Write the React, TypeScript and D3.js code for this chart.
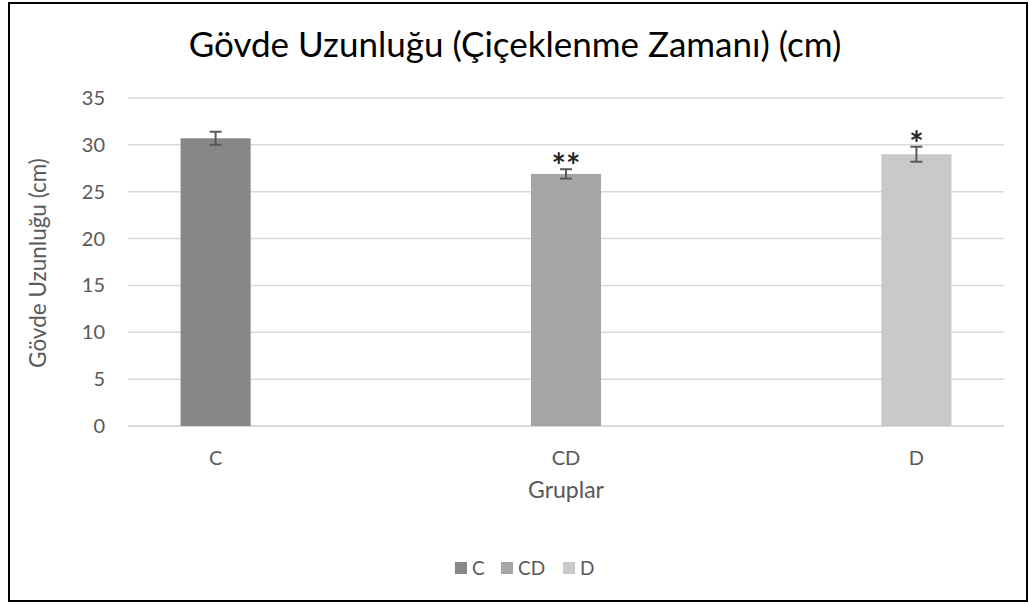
import React from 'react';
import * as d3 from 'd3';

const groups = ['C', 'CD', 'D'];
const means = [30.7, 26.9, 29.0];
const errors = [0.7, 0.5, 0.8];
const marks = ['', '**', '*'];
const barColors = ['#878787', '#a5a5a5', '#c9c9c9'];
const yTicks = [0, 5, 10, 15, 20, 25, 30, 35];

const W = 1029;
const H = 605;
const plot = { left: 128, right: 1004, top: 98, bottom: 426 };
const font = 'Lato, "Open Sans", sans-serif';

const App = () => {
  const x = d3.scalePoint<string>()
    .domain(groups)
    .range([plot.left, plot.right])
    .padding(0.25);

  const y = d3.scaleLinear()
    .domain([0, 35])
    .range([plot.bottom, plot.top]);

  const barW = x.step() * 0.2;
  const capW = 12;

  return (
    <svg width={W} height={H} style={{ position: 'absolute', left: 0, top: 0 }}>
      <rect x={0} y={0} width={W} height={H} fill="#fff" />
      <rect x={9} y={3} width={1018} height={598} fill="none" stroke="#000" strokeWidth={2} />

      <text x={515} y={57} textAnchor="middle" fontFamily={font} fontSize={35} fill="#000">
        Gövde Uzunluğu (Çiçeklenme Zamanı) (cm)
      </text>

      {/* gridlines */}
      {yTicks.map(t => (
        <line key={t} x1={plot.left} x2={plot.right} y1={y(t)} y2={y(t)}
          stroke="#d9d9d9" strokeWidth={t === 0 ? 2 : 1.5} />
      ))}

      {/* y tick labels */}
      {yTicks.map(t => (
        <text key={t} x={105} y={y(t)} dy="0.35em" textAnchor="end"
          fontFamily={font} fontSize={20} fill="#595959">{t}</text>
      ))}

      <text transform={`translate(46,${(plot.top + plot.bottom) / 2 + 1}) rotate(-90)`}
        textAnchor="middle" fontFamily={font} fontSize={22.5} fill="#595959">
        Gövde Uzunluğu (cm)
      </text>

      {/* bars */}
      {groups.map((g, i) => {
        const cx = x(g) as number;
        const top = y(means[i] + errors[i]);
        const bot = y(means[i] - errors[i]);
        return (
          <g key={g}>
            <rect x={cx - barW / 2} y={y(means[i])} width={barW} height={plot.bottom - y(means[i])}
              fill={barColors[i]} />
            <line x1={cx} x2={cx} y1={top} y2={bot} stroke="#595959" strokeWidth={2} />
            <line x1={cx - capW / 2} x2={cx + capW / 2} y1={top} y2={top} stroke="#595959" strokeWidth={2} />
            <line x1={cx - capW / 2} x2={cx + capW / 2} y1={bot} y2={bot} stroke="#595959" strokeWidth={2} />
            {marks[i] && (
              <text x={cx} y={top + 9} textAnchor="middle" fontFamily={font} fontSize={34}
                fontWeight="bold" fill="#262626">{marks[i]}</text>
            )}
          </g>
        );
      })}

      {/* x labels */}
      {groups.map(g => (
        <text key={g} x={x(g) as number} y={465} textAnchor="middle"
          fontFamily={font} fontSize={20} fill="#595959">{g}</text>
      ))}

      <text x={x('CD') as number} y={498} textAnchor="middle" fontFamily={font} fontSize={23} fill="#595959">
        Gruplar
      </text>

      {/* legend */}
      {groups.map((g, i) => {
        const lx = [455, 501, 563][i];
        return (
          <g key={g}>
            <rect x={lx} y={562} width={12} height={12} fill={barColors[i]} />
            <text x={lx + 17} y={575} fontFamily={font} fontSize={19} fill="#595959">{g}</text>
          </g>
        );
      })}
    </svg>
  );
};

export default App;
